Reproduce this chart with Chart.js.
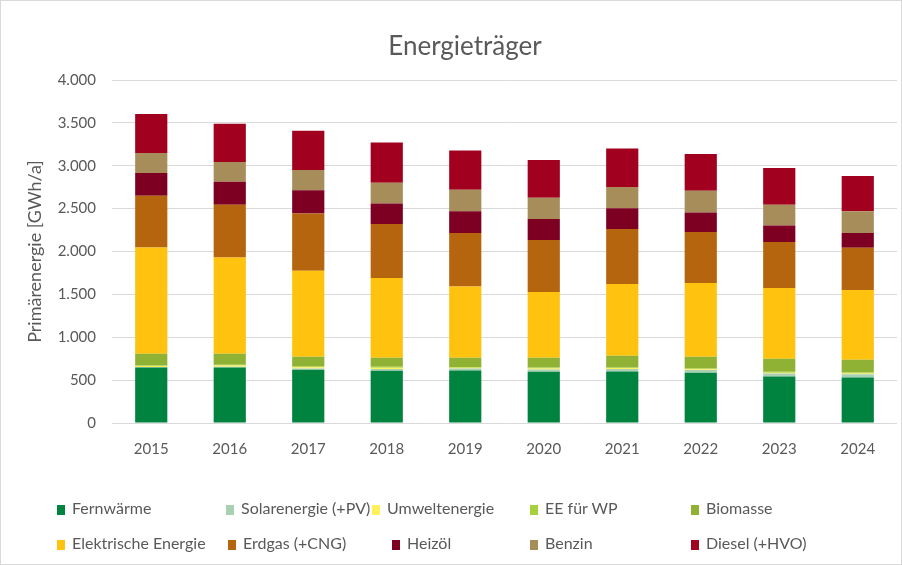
<!DOCTYPE html>
<html>
<head>
<meta charset="utf-8">
<script src="https://cdn.jsdelivr.net/npm/chart.js@4.4.1/dist/chart.umd.min.js"></script>
<style>
  html, body { margin: 0; padding: 0; background: #fff; }
  #wrap { position: relative; width: 902px; height: 565px; font-family: Lato, "Liberation Sans", sans-serif; }
  #frame { position: absolute; left: 0; top: 0; width: 900px; height: 563px; border: 1px solid #d9d9d9; pointer-events: none; }
  canvas { position: absolute; left: 0; top: 0; }
  #title { position: absolute; left: 265px; width: 400px; top: 29px; text-align: center; font-size: 26px; line-height: 32px; color: #595959; }
  .lg { position: absolute; font-size: 16px; color: #595959; white-space: nowrap; line-height: 20px; }
  .lg i { display: inline-block; width: 8px; height: 10px; margin-right: 7px; vertical-align: -1px; }
</style>
</head>
<body>
<div id="wrap">
  <canvas id="c" width="902" height="565"></canvas>
  <div id="title">Energieträger</div>
  <div id="legend"></div>
  <div id="frame"></div>
</div>
<script>
const years = ["2015","2016","2017","2018","2019","2020","2021","2022","2023","2024"];
const fernwaerme   = [648, 648, 622, 610, 613, 598, 602, 587, 543, 532];
const solarenergie = [5, 8, 15, 20, 22, 25, 28, 30, 33, 36];
const umweltenergie= [12, 14, 13, 15, 10, 12, 10, 10, 10, 10];
const eeFuerWP     = [7, 10, 10, 12, 8, 13, 8, 10, 12, 12];
const biomasse     = [136, 128, 113, 105, 109, 114, 137, 136, 152, 148];
const elektrisch   = [1240, 1123, 1003, 929, 831, 766, 836, 860, 824, 813];
const erdgas       = [603, 615, 668, 630, 623, 606, 641, 594, 537, 493];
const heizoel      = [264, 268, 269, 240, 252, 245, 241, 229, 193, 172];
const benzin       = [234, 230, 237, 241, 253, 248, 249, 253, 242, 252];
const diesel       = [454, 446, 459, 470, 458, 440, 450, 428, 428, 412];
const seriesNames  = ["Fernwärme","Solarenergie (+PV)","Umweltenergie","EE für WP","Biomasse",
                      "Elektrische Energie","Erdgas (+CNG)","Heizöl","Benzin","Diesel (+HVO)"];
const yTicks = [0, 500, 1000, 1500, 2000, 2500, 3000, 3500, 4000];

const seriesData = [fernwaerme, solarenergie, umweltenergie, eeFuerWP, biomasse,
                    elektrisch, erdgas, heizoel, benzin, diesel];
const colors = ["#00833f","#a9cfb4","#fff15a","#a7d03c","#8fb234",
                "#ffc20e","#b5650e","#7d0022","#a68d5a","#a1001f"];

const textColor = "#595959";
const fontFam = "Lato, 'Liberation Sans', sans-serif";

const chart = new Chart(document.getElementById("c"), {
  type: "bar",
  data: {
    labels: years,
    datasets: seriesData.map((d, i) => ({
      label: seriesNames[i],
      data: d,
      backgroundColor: colors[i],
      borderWidth: 0,
      categoryPercentage: 1,
      barPercentage: 0.41
    }))
  },
  options: {
    responsive: false,
    animation: false,
    devicePixelRatio: 1,
    layout: { padding: { left: 0, right: 5, top: 80, bottom: 102 } },
    plugins: {
      legend: { display: false },
      tooltip: { enabled: false },
      title: { display: false }
    },
    scales: {
      x: {
        stacked: true,
        grid: { display: false, drawTicks: false },
        border: { display: false },
        ticks: { color: textColor, font: { family: fontFam, size: 15 }, padding: 17, maxRotation: 0 },
        afterFit: (s) => { s.height = 40; }
      },
      y: {
        stacked: true,
        min: 0, max: 4000,
        afterBuildTicks: (s) => { s.ticks = yTicks.map(v => ({ value: v })); },
        grid: { color: "#d9d9d9", lineWidth: 1, drawTicks: false },
        border: { display: false },
        ticks: {
          color: textColor,
          font: { family: fontFam, size: 15 },
          padding: 16,
          callback: (v) => v.toLocaleString("de-DE")
        },
        title: {
          display: true,
          text: "Primärenergie [GWh/a]",
          color: textColor,
          font: { family: fontFam, size: 18 },
          padding: { top: 24, bottom: 0 }
        },
        afterFit: (s) => { s.width = 112; }
      }
    }
  }
});

// HTML legend built from series names and colors
const legendPos = [
  [57, 498], [226, 498], [372, 498], [530, 498], [691, 498],
  [57, 533], [228, 533], [392, 533], [530, 533], [691, 533]
];
const lg = document.getElementById("legend");
seriesNames.forEach((n, i) => {
  const d = document.createElement("div");
  d.className = "lg";
  d.style.left = legendPos[i][0] + "px";
  d.style.top = legendPos[i][1] + "px";
  d.innerHTML = '<i style="background:' + colors[i] + '"></i>' + n;
  lg.appendChild(d);
});
</script>
</body>
</html>
